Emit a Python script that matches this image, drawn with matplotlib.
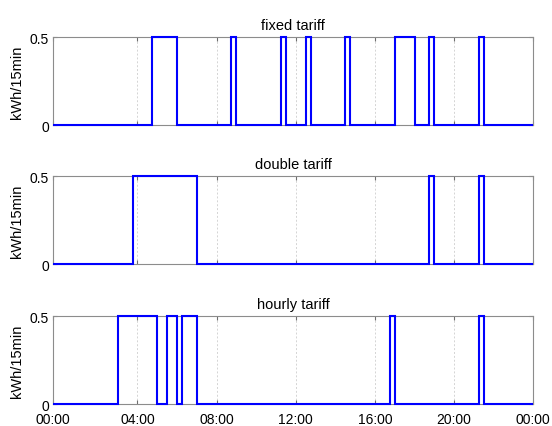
import numpy as np
import matplotlib
matplotlib.use("Agg")
import matplotlib.pyplot as plt

plt.rcParams['font.family'] = ['Liberation Sans', 'DejaVu Sans']

# hours during which the appliance runs (start, end), 15 min resolution
titles = ['fixed tariff', 'double tariff', 'hourly tariff']
fixed_on = [(4.75, 6.0), (8.75, 9.0), (11.25, 11.5), (12.5, 12.75),
            (14.5, 14.75), (17.0, 18.0), (18.75, 19.0), (21.25, 21.5)]
double_on = [(3.75, 7.0), (18.75, 19.0), (21.25, 21.5)]
hourly_on = [(3.0, 5.0), (5.5, 6.0), (6.25, 7.0), (16.75, 17.0), (21.25, 21.5)]
power = 0.5  # kWh per 15 min when on

tick_hours = [-0.25, 4, 8, 12, 16, 20, 24]
tick_labels = ['00:00', '04:00', '08:00', '12:00', '16:00', '20:00', '00:00']


def to_series(intervals):
    edges = np.arange(-0.25, 24.001, 0.25)
    vals = np.zeros(len(edges) - 1)
    for a, b in intervals:
        mask = (edges[:-1] >= a - 1e-9) & (edges[:-1] < b - 1e-9)
        vals[mask] = power
    return edges, vals


fig = plt.figure(figsize=(5.52, 4.27), dpi=100)
bottoms = [0.7049, 0.3787, 0.0515]
gray = '#6e6e6e'

for i, (title, data) in enumerate(zip(titles, [fixed_on, double_on, hourly_on])):
    ax = fig.add_axes([0.0966, bottoms[i], 0.8696, 0.2061])
    edges, vals = to_series(data)
    ax.stairs(vals, edges, color='#0000ff', linewidth=1.5, baseline=None,
              clip_on=False, zorder=3)
    ax.set_xlim(-0.25, 24)
    ax.set_ylim(0, 0.5)
    ax.set_yticks([0, 0.5])
    ax.set_yticklabels(['0', '0.5'])
    ax.set_xticks(tick_hours)
    if i == 2:
        ax.set_xticklabels(tick_labels)
    else:
        ax.set_xticklabels([])
    ax.xaxis.grid(True, linestyle=(0, (2, 2)), color='#d4d4d4', linewidth=0.7)
    ax.tick_params(direction='in', top=True, right=True, length=3,
                   labelsize=10, color=gray, pad=3)
    ax.tick_params(axis='x', pad=6)
    for s in ax.spines.values():
        s.set_color('#8c8c8c')
        s.set_linewidth(0.8)
    ax.set_title(title, fontsize=10.5, pad=6)
    ax.set_ylabel('kWh/15min', fontsize=10.5, labelpad=4)

fig.savefig('out.png', dpi=100)
